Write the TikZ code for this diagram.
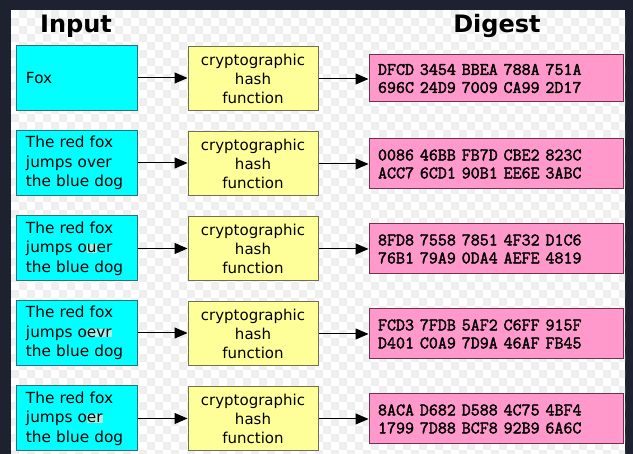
\documentclass[tikz,border=0pt]{standalone}
\usepackage{fontspec}
\setmainfont{DejaVu Sans}
\newfontfamily\digestface[FakeBold=2]{Latin Modern Mono}
\usetikzlibrary{arrows.meta}
\definecolor{framecol}{HTML}{1E2130}
\definecolor{checkcol}{HTML}{EFEFEF}
\definecolor{infill}{HTML}{00FFFF}
\definecolor{inborder}{HTML}{2F6F78}
\definecolor{hashfill}{HTML}{FFFF99}
\definecolor{hashborder}{HTML}{707050}
\definecolor{digfill}{HTML}{FF99CC}
\definecolor{digborder}{HTML}{703050}
\definecolor{hlcol}{HTML}{A8F0E6}
\newcommand{\hlt}[1]{{\setlength{\fboxsep}{0pt}\colorbox{hlcol}{\vphantom{x}#1}}}
\newcommand{\digestfont}{\digestface\fontsize{17.5}{18}\selectfont}
\tikzset{
  inbox/.style={draw=inborder, fill=infill, line width=1pt, minimum height=65, text width=101,
    inner xsep=10, inner ysep=0, align=left, font=\fontsize{15.3}{19.5}\selectfont},
  hashbox/.style={draw=hashborder, fill=hashfill, line width=1pt, minimum width=130, minimum height=64,
    inner sep=0, align=center, font=\fontsize{15}{19}\selectfont},
  digbox/.style={draw=digborder, fill=digfill, line width=1pt, minimum height=50, text width=236,
    inner xsep=9, inner ysep=0, align=left, font=\digestfont},
  titletext/.style={font=\fontsize{24}{28}\selectfont\bfseries, inner sep=0},
  flow/.style={line width=1pt, -{Triangle[length=13pt,width=11pt]}}
}
\begin{document}
\begin{tikzpicture}[x=1pt,y=-1pt]
\useasboundingbox (0,0) rectangle (633,454);
\fill[framecol] (0,0) rectangle (633,454);
\fill[white] (11,10) rectangle (625,454);
\begin{scope}
\clip (11,10) rectangle (625,454);
\foreach \i in {0,...,76}{\foreach \j in {0,...,55}{\ifodd\numexpr\i+\j\relax
  \fill[checkcol] ({11+8*\i},{10+8*\j}) rectangle +(8,8);\fi}}
\end{scope}

\node[titletext] (tin) at (76,26) {Input};
\node[titletext] (tdg) at (497,26) {Digest};

% row 1
\node[inbox] (in1) at (76.5,78) {Fox};
\node[hashbox] (h1) at (253,79) {cryptographic\\hash\\function};
\node[digbox, minimum height=47] (d1) at (496,78.5) {DFCD 3454 BBEA 788A 751A\\696C 24D9 7009 CA99 2D17};
% row 2
\node[inbox] (in2) at (76.5,163) {The red fox\\jumps over\\the blue dog};
\node[hashbox] (h2) at (253,164) {cryptographic\\hash\\function};
\node[digbox] (d2) at (496,164) {0086 46BB FB7D CBE2 823C\\ACC7 6CD1 90B1 EE6E 3ABC};
% row 3
\node[inbox] (in3) at (76.5,248.5) {The red fox\\jumps o\hlt{u}er\\the blue dog};
\node[hashbox] (h3) at (253,249) {cryptographic\\hash\\function};
\node[digbox] (d3) at (496,249) {8FD8 7558 7851 4F32 D1C6\\76B1 79A9 0DA4 AEFE 4819};
% row 4
\node[inbox] (in4) at (76.5,333) {The red fox\\jumps o\hlt{evr}\\the blue dog};
\node[hashbox] (h4) at (253,334) {cryptographic\\hash\\function};
\node[digbox] (d4) at (496,334) {FCD3 7FDB 5AF2 C6FF 915F\\D401 C0A9 7D9A 46AF FB45};
% row 5
\node[inbox] (in5) at (76.5,418.5) {The red fox\\jumps o\hlt{er}\\the blue dog};
\node[hashbox] (h5) at (253,419) {cryptographic\\hash\\function};
\node[digbox] (d5) at (496,419) {8ACA D682 D588 4C75 4BF4\\1799 7D88 BCF8 92B9 6A6C};

\foreach \r in {1,...,5}{
  \draw[flow] (in\r.east) -- (h\r.west |- in\r.east);
  \draw[flow] (h\r.east) -- (d\r.west |- h\r.east);
}
\end{tikzpicture}
\end{document}
